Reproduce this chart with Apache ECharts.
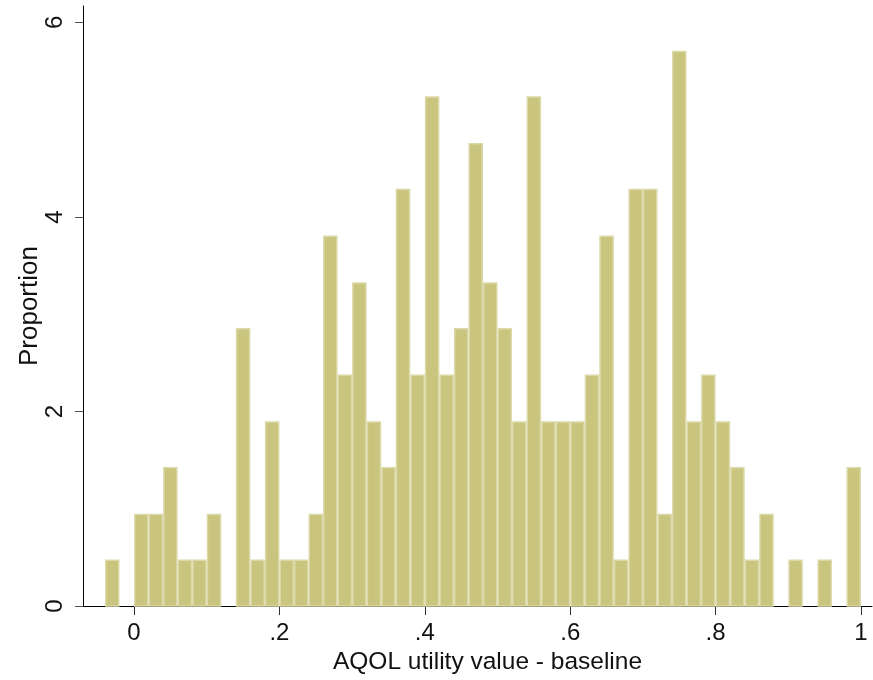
<!DOCTYPE html>
<html>
<head>
<meta charset="utf-8">
<script src="https://cdn.jsdelivr.net/npm/echarts@6/dist/echarts.min.js"></script>
<style>
  html, body { margin: 0; padding: 0; background: #fff; }
  #chart { width: 873px; height: 680px; }
</style>
</head>
<body>
<div id="chart"></div>
<script>
// histogram bins: width .02 starting at -.04
const binStart = -0.04
const binWidth = 0.02

// bar heights (percent of obs), one per bin
const proportions = [
  0.48, 0, 0.95, 0.95, 1.43, 0.48, 0.48, 0.95, 0, 2.86,
  0.48, 1.90, 0.48, 0.48, 0.95, 3.81, 2.38, 3.33, 1.90, 1.43,
  4.29, 2.38, 5.24, 2.38, 2.86, 4.76, 3.33, 2.86, 1.90, 5.24,
  1.90, 1.90, 1.90, 2.38, 3.81, 0.48, 4.29, 4.29, 0.95, 5.71,
  1.90, 2.38, 1.90, 1.43, 0.48, 0.95, 0, 0.48, 0, 0.48,
  0, 1.43,
]

const xTicks = [0, 0.2, 0.4, 0.6, 0.8, 1]
const yTicks = [0, 2, 4, 6]

const xTitle = 'AQOL utility value - baseline'
const yTitle = 'Proportion'

const font = '"Liberation Sans", Arial, sans-serif'

const bars = proportions
  .map((v, i) => [binStart + i * binWidth, binStart + (i + 1) * binWidth, v])
  .filter((d) => d[2] > 0)

// stata style: drop the leading zero
const fmt = (v) => {
  if (v === 0 || v === 1) return String(v)
  return String(+v.toFixed(1)).replace(/^0/, '')
}

const chart = echarts.init(document.getElementById('chart'), null, {
  renderer: 'canvas',
  width: 873,
  height: 680,
})

const option = {
  animation: false,
  backgroundColor: '#fff',
  grid: { left: 83, right: 1, top: 6, bottom: 72 },
  xAxis: {
    type: 'value',
    min: -0.0702,
    max: 1.0151,
    name: xTitle,
    nameLocation: 'middle',
    nameGap: 38,
    nameTextStyle: {
      fontFamily: font,
      fontSize: 24.5,
      color: '#111',
      padding: [0, 0, 0, 20],
    },
    axisLine: { show: true, onZero: false, lineStyle: { color: '#000', width: 1 } },
    axisTick: {
      show: true,
      length: 9,
      customValues: xTicks,
      lineStyle: { color: '#333' },
    },
    axisLabel: {
      customValues: xTicks,
      formatter: fmt,
      margin: 15,
      fontFamily: font,
      fontSize: 24,
      color: '#111',
    },
    splitLine: { show: false },
  },
  yAxis: {
    type: 'value',
    min: 0,
    max: 6.169,
    name: yTitle,
    nameLocation: 'middle',
    nameRotate: 90,
    nameGap: 40,
    nameMoveOverlap: false,
    nameTextStyle: { fontFamily: font, fontSize: 26, color: '#111' },
    axisLine: { show: true, onZero: false, lineStyle: { color: '#000', width: 1 } },
    axisTick: {
      show: true,
      length: 8,
      customValues: yTicks,
      lineStyle: { color: '#555' },
    },
    axisLabel: {
      customValues: yTicks,
      rotate: 90,
      margin: 16,
      fontFamily: font,
      fontSize: 24,
      color: '#111',
    },
    splitLine: { show: false },
  },
  series: [
    {
      type: 'custom',
      data: bars,
      renderItem: (params, api) => {
        const p0 = api.coord([api.value(0), 0])
        const p1 = api.coord([api.value(1), api.value(2)])
        return {
          type: 'rect',
          shape: {
            x: p0[0] + 0.75,
            y: p1[1] + 0.75,
            width: p1[0] - p0[0] - 1.5,
            height: p0[1] - p1[1] - 0.75,
          },
          style: {
            fill: '#C9C47E',
            stroke: '#DCD9A8',
            lineWidth: 1.5,
          },
        }
      },
    },
  ],
}

chart.setOption(option)
</script>
</body>
</html>
